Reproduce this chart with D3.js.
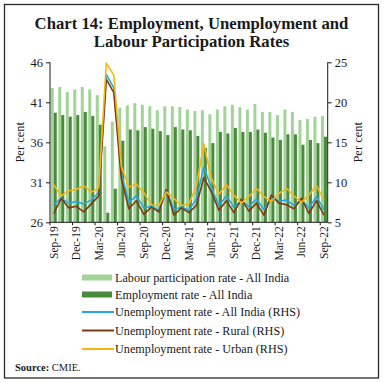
<!DOCTYPE html>
<html>
<head>
<meta charset="utf-8">
<script src="https://cdn.jsdelivr.net/npm/d3@7"></script>
<style>
  body { margin: 0; background: #fff; }
  text { font-family: "Liberation Serif", "Times New Roman", serif; fill: #1a1a1a; }
</style>
</head>
<body>
<script>
const months = ["Sep-19","Oct-19","Nov-19","Dec-19","Jan-20","Feb-20","Mar-20","Apr-20","May-20",
  "Jun-20","Jul-20","Aug-20","Sep-20","Oct-20","Nov-20","Dec-20","Jan-21","Feb-21","Mar-21",
  "Apr-21","May-21","Jun-21","Jul-21","Aug-21","Sep-21","Oct-21","Nov-21","Dec-21","Jan-22",
  "Feb-22","Mar-22","Apr-22","May-22","Jun-22","Jul-22","Aug-22","Sep-22"];

// labour participation rate, employment rate (LHS, per cent)
const lpr = [42.8, 42.9, 42.3, 42.6, 42.9, 42.6, 41.9, 35.5, 38.6, 40.3, 40.6, 40.9, 40.7,
  40.5, 40.0, 40.5, 40.5, 40.4, 40.1, 39.9, 40.0, 39.5, 40.1, 40.5, 40.7, 40.4, 40.1,
  40.8, 39.8, 39.8, 39.4, 40.1, 39.8, 38.8, 38.9, 39.2, 39.3];
const er = [39.7, 39.4, 39.2, 39.4, 39.8, 39.3, 38.2, 27.2, 30.2, 36.2, 37.6, 37.5, 37.9,
  37.7, 37.4, 36.9, 37.9, 37.6, 37.5, 36.8, 35.3, 35.9, 37.3, 37.1, 37.8, 37.3, 37.3,
  37.6, 37.2, 36.6, 36.3, 37.0, 37.0, 35.7, 36.3, 35.9, 36.7];

// unemployment rates (RHS, per cent)
const urAll = [7.2, 8.0, 7.4, 7.6, 7.3, 7.8, 8.7, 23.5, 21.8, 11.0, 7.5, 8.3, 6.8,
  7.0, 6.5, 9.0, 6.6, 6.9, 6.5, 7.9, 11.9, 9.3, 7.1, 8.3, 6.9, 7.7, 7.0,
  7.9, 6.6, 8.1, 7.6, 7.8, 7.1, 7.8, 6.8, 8.2, 6.6];
const urRural = [6.1, 8.0, 6.8, 7.0, 6.3, 7.3, 8.3, 22.9, 21.2, 10.5, 6.7, 7.7, 6.0,
  6.9, 6.3, 9.1, 5.9, 6.8, 6.2, 7.1, 10.6, 8.8, 6.5, 7.7, 6.2, 7.9, 6.4,
  7.4, 5.9, 8.4, 7.4, 7.2, 6.7, 8.0, 6.1, 7.7, 5.9];
const urUrban = [9.7, 8.3, 8.95, 9.1, 9.6, 8.75, 9.3, 24.9, 23.4, 12.0, 9.4, 9.8, 8.7,
  7.2, 7.1, 8.8, 8.0, 7.1, 7.3, 9.5, 14.8, 10.5, 8.5, 9.7, 8.4, 7.4, 8.2,
  9.25, 8.2, 7.6, 8.6, 9.25, 8.3, 7.5, 8.4, 9.6, 7.8];

const leftTicks = [26, 31, 36, 41, 46];
const rightTicks = [5, 10, 15, 20, 25];

const barSeries = [
  { name: "Labour participation rate - All India", values: lpr, color: "#a2d498" },
  { name: "Employment rate - All India", values: er, color: "#4a8a3c" }
];
const lineSeries = [
  { name: "Unemployment rate - All India (RHS)", values: urAll, color: "#22a9e1" },
  { name: "Unemployment rate - Rural (RHS)", values: urRural, color: "#7f3a12" },
  { name: "Unemployment rate - Urban (RHS)", values: urUrban, color: "#f7b512" }
];

const W = 384, H = 383;
const plot = { left: 50, right: 327.7, top: 62.3, bottom: 222.3 };

const svg = d3.select("body").append("svg")
  .attr("width", W)
  .attr("height", H);

svg.append("rect")
  .attr("x", 4.5).attr("y", 4.5)
  .attr("width", 374).attr("height", 373.5)
  .attr("fill", "#fff")
  .attr("stroke", "#2a2a2a")
  .attr("stroke-width", 1.3);

// title
function fitText(sel, width) {
  const w = sel.node().getComputedTextLength();
  const fs = parseFloat(sel.attr("font-size"));
  sel.attr("font-size", fs * width / w);
}
const t1 = svg.append("text")
  .attr("x", 191.5).attr("y", 28.5)
  .attr("text-anchor", "middle")
  .attr("font-size", 17).attr("font-weight", "bold")
  .text("Chart 14: Employment, Unemployment and");
fitText(t1, 314);
svg.append("text")
  .attr("x", 191.5).attr("y", 47)
  .attr("text-anchor", "middle")
  .attr("font-size", t1.attr("font-size")).attr("font-weight", "bold")
  .text("Labour Participation Rates");

// scales
const x = d3.scaleBand()
  .domain(months)
  .range([plot.left, plot.right])
  .paddingInner(0.2)
  .paddingOuter(0.1);

const xSub = d3.scaleBand()
  .domain(barSeries.map(d => d.name))
  .range([0, x.bandwidth()]);

const yL = d3.scaleLinear().domain([26, 46]).range([plot.bottom, plot.top]);
const yR = d3.scaleLinear().domain([5, 25]).range([plot.bottom, plot.top]);

// bars
barSeries.forEach(s => {
  svg.append("g").selectAll("rect")
    .data(months.map((m, i) => ({ m, v: s.values[i] })))
    .join("rect")
    .attr("x", d => x(d.m) + xSub(s.name))
    .attr("y", d => yL(d.v))
    .attr("width", xSub.bandwidth())
    .attr("height", d => yL(26) - yL(d.v))
    .attr("fill", s.color);
});

// lines
const line = d3.line()
  .x(d => x(d.m) + x.bandwidth() / 2)
  .y(d => yR(d.v));

lineSeries.forEach(s => {
  svg.append("path")
    .datum(months.map((m, i) => ({ m, v: s.values[i] })))
    .attr("d", line)
    .attr("fill", "none")
    .attr("stroke", s.color)
    .attr("stroke-width", 1.6)
    .attr("stroke-linejoin", "round");
});

// axes
const axisL = svg.append("g")
  .attr("transform", `translate(${plot.left},0)`)
  .call(d3.axisLeft(yL).tickValues(leftTicks).tickSize(4).tickPadding(3));
const axisR = svg.append("g")
  .attr("transform", `translate(${plot.right},0)`)
  .call(d3.axisRight(yR).tickValues(rightTicks).tickSize(4).tickPadding(3));

[axisL, axisR].forEach(a => {
  a.select(".domain").attr("stroke", "#1a1a1a").attr("d", `M0,${plot.top}V${plot.bottom}`);
  a.selectAll(".tick line").attr("stroke", "#1a1a1a");
  a.selectAll(".tick text")
    .attr("font-family", "Liberation Serif, serif")
    .attr("font-size", 12.5)
    .attr("fill", "#1a1a1a");
});

// bottom axis: ticks at quarter boundaries, labels rotated
const labelled = months.filter((m, i) => i % 3 === 0);
const step = x.step();
const gx = svg.append("g");
gx.append("line")
  .attr("x1", plot.left).attr("x2", plot.right)
  .attr("y1", plot.bottom).attr("y2", plot.bottom)
  .attr("stroke", "#1a1a1a");
gx.selectAll("line.tk")
  .data(labelled)
  .join("line")
  .attr("class", "tk")
  .attr("x1", d => x(d) - step * 0.1)
  .attr("x2", d => x(d) - step * 0.1)
  .attr("y1", plot.bottom).attr("y2", plot.bottom + 3)
  .attr("stroke", "#1a1a1a");
gx.selectAll("text")
  .data(labelled)
  .join("text")
  .attr("transform", d => `translate(${x(d) + x.bandwidth() / 2 + 3.8},${plot.bottom + 4}) rotate(-90)`)
  .attr("text-anchor", "end")
  .attr("font-size", 11.5)
  .text(d => d);

// axis titles
svg.append("text")
  .attr("transform", `translate(24,${(plot.top + plot.bottom) / 2}) rotate(-90)`)
  .attr("text-anchor", "middle")
  .attr("font-size", 12.5)
  .text("Per cent");
svg.append("text")
  .attr("transform", `translate(362,${(plot.top + plot.bottom) / 2}) rotate(-90)`)
  .attr("text-anchor", "middle")
  .attr("font-size", 12.5)
  .text("Per cent");

// legend
const legendY = [277.5, 294.5, 312, 330.5, 349];
const lg = svg.append("g");
barSeries.forEach((s, i) => {
  lg.append("rect")
    .attr("x", 82).attr("y", legendY[i] - 3)
    .attr("width", 30).attr("height", 6)
    .attr("fill", s.color);
});
lineSeries.forEach((s, i) => {
  lg.append("line")
    .attr("x1", 82).attr("x2", 114)
    .attr("y1", legendY[i + 2]).attr("y2", legendY[i + 2])
    .attr("stroke", s.color)
    .attr("stroke-width", 2);
});
lg.selectAll("text")
  .data(barSeries.concat(lineSeries))
  .join("text")
  .attr("x", 115)
  .attr("y", (d, i) => legendY[i] + 4)
  .attr("font-size", 12.2)
  .text(d => d.name);

// source
const src = svg.append("text")
  .attr("x", 15).attr("y", 370.5)
  .attr("font-size", 10.5);
src.append("tspan").attr("font-weight", "bold").text("Source:");
src.append("tspan").text(" CMIE.");
</script>
</body>
</html>
